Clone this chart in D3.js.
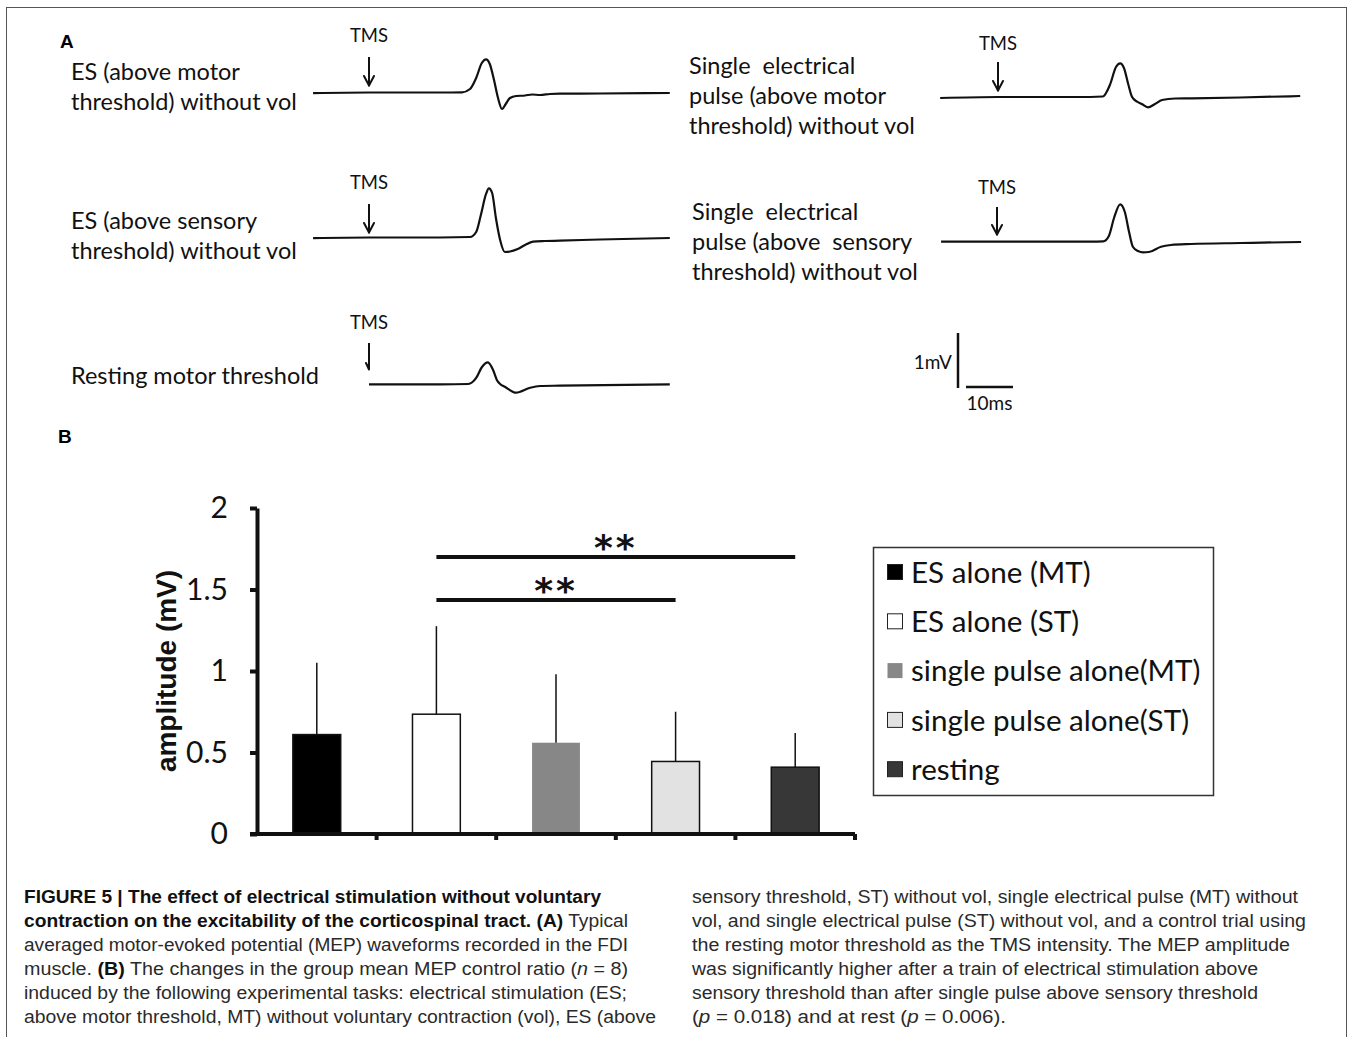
<!DOCTYPE html>
<html><head><meta charset="utf-8">
<script src="https://cdn.jsdelivr.net/npm/d3@7"></script>
<style>body{margin:0;background:#fff}svg{display:block}</style>
</head><body>
<svg id="c" width="1350" height="1037"></svg>
<script>
// ---------- DATA ----------
// MEP waveforms: [time after TMS (ms), amplitude (mV)]
const traceEsMT = [[-11.9,-0.01],[0,0],[15.1,0],[19.8,0.004],[21.5,0.064],[22.8,0.264],[24.0,0.536],[24.9,0.604],[25.7,0.518],[26.6,0.227],[27.4,-0.082],[28.3,-0.3],[29.1,-0.209],[30.0,-0.1],[31.3,-0.064],[33.2,-0.055],[34.7,-0.036],[36.4,-0.045],[38.5,-0.027],[40.6,-0.02],[49.1,-0.018],[64.0,-0.009]];
const traceEsST = [[-11.9,-0.01],[0,0],[15.1,0],[21.5,0.009],[22.8,0.1],[23.8,0.409],[24.9,0.791],[25.5,0.895],[26.2,0.809],[27.0,0.355],[27.9,-0.045],[28.9,-0.264],[30.0,-0.255],[31.5,-0.215],[33.2,-0.136],[34.9,-0.076],[37.4,-0.064],[40.6,-0.058],[49.1,-0.036],[64.0,-0.009]];
const traceRest = [[0,0],[15.1,0],[21.1,0.005],[22.8,0.115],[24.0,0.31],[25.3,0.4],[26.4,0.26],[27.2,0.08],[27.9,0.005],[28.9,-0.044],[31.3,-0.153],[34.3,-0.062],[36.4,-0.031],[40.6,-0.025],[64.0,0]];
const traceSpMT = [[-12.3,-0.018],[0,0],[19.6,0],[22.3,0.009],[23.8,0.218],[25.1,0.545],[26.0,0.613],[26.8,0.527],[27.7,0.236],[28.5,0.005],[29.6,-0.085],[30.6,-0.127],[31.9,-0.187],[33.4,-0.127],[34.9,-0.055],[37.7,-0.027],[40.9,-0.024],[51.5,-0.009],[64.3,0.018]];
const traceSpST = [[-11.9,0],[0,0],[20.0,0],[22.6,0.005],[23.8,0.104],[24.9,0.431],[26.2,0.68],[27.2,0.54],[28.1,0.176],[28.9,-0.091],[30.0,-0.169],[31.1,-0.193],[32.3,-0.187],[34.9,-0.091],[37.0,-0.06],[41.3,-0.042],[51.9,-0.024],[64.7,-0.005]];
const scaleBarMv = 1, scaleBarMs = 10;

// Panel B: group mean MEP amplitude
const categories = ["ES alone (MT)", "ES alone (ST)", "single pulse alone(MT)", "single pulse alone(ST)", "resting"];
const meanAmp = [0.61, 0.735, 0.56, 0.445, 0.41];
const sdAmp = [0.44, 0.54, 0.42, 0.305, 0.21];
const barColors = ["#000000", "#ffffff", "#878787", "#e2e2e2", "#373737"];
const yTickValues = [0, 0.5, 1, 1.5, 2];
const sigFrom = [1, 1], sigTo = [4, 3], sigLevel = [1.70, 1.435], sigMark = ["**", "**"];

// ---------- DRAW ----------
const svg = d3.select("#c");
const labelFont = "Lato, 'Open Sans', sans-serif";
const pxPerMs = 4.7, pxPerMv = 55;

// frame
svg.append("rect").attr("x", 6.5).attr("y", 7.5).attr("width", 1340).attr("height", 1100)
  .attr("fill", "none").attr("stroke", "#555").attr("stroke-width", 1);

svg.append("text").attr("x", 60).attr("y", 48).text("A")
  .attr("font-family", "'Liberation Sans', Arial, sans-serif").attr("font-weight", "bold").attr("font-size", 19);
svg.append("text").attr("x", 58).attr("y", 443).text("B")
  .attr("font-family", "'Liberation Sans', Arial, sans-serif").attr("font-weight", "bold").attr("font-size", 19);

const traces = [
  {data: traceEsMT, x0: 369, base: 92.5, lx: 71, ly: 72, labels: ["ES (above motor", "threshold) without vol"], tmsY: 35, a1: 57, a2: 85},
  {data: traceEsST, x0: 369, base: 237.5, lx: 71, ly: 221, labels: ["ES (above sensory", "threshold) without vol"], tmsY: 182, a1: 204, a2: 232},
  {data: traceRest, x0: 369, base: 384.3, lx: 71, ly: 376, labels: ["Resting motor threshold"], tmsY: 322, a1: 343, a2: 369, half: true},
  {data: traceSpMT, x0: 998, base: 97, lx: 689, ly: 66, labels: ["Single  electrical", "pulse (above motor", "threshold) without vol"], tmsY: 43, a1: 62, a2: 90},
  {data: traceSpST, x0: 997, base: 241.7, lx: 692, ly: 212, labels: ["Single  electrical", "pulse (above  sensory", "threshold) without vol"], tmsY: 187, a1: 207, a2: 234}
];

traces.forEach(t => {
  const xs = d3.scaleLinear().domain([0, 1]).range([t.x0, t.x0 + pxPerMs]);
  const ys = d3.scaleLinear().domain([0, 1]).range([t.base, t.base - pxPerMv]);
  const line = d3.line().x(d => xs(d[0])).y(d => ys(d[1])).curve(d3.curveMonotoneX);
  svg.append("path").attr("d", line(t.data)).attr("fill", "none").attr("stroke", "#111")
    .attr("stroke-width", 2.2).attr("stroke-linejoin", "round");
  t.labels.forEach((s, i) => {
    svg.append("text").attr("x", t.lx).attr("y", t.ly + i * 30).attr("dy", "0.36em")
      .style("white-space", "pre").attr("font-family", labelFont).attr("font-size", 23.5)
      .attr("fill", "#111").text(s);
  });
  svg.append("text").attr("x", xs(0)).attr("y", t.tmsY).attr("dy", "0.36em").attr("text-anchor", "middle")
    .attr("font-family", labelFont).attr("font-size", 18.5).attr("fill", "#111").text("TMS");
  const ax = xs(0);
  svg.append("line").attr("x1", ax).attr("x2", ax).attr("y1", t.a1).attr("y2", t.a2)
    .attr("stroke", "#111").attr("stroke-width", 2);
  const barb = t.half ? [[ax - 3, t.a2 - 6]] : [[ax - 5, t.a2 - 9], [ax + 5, t.a2 - 9]];
  barb.forEach(b => svg.append("line").attr("x1", b[0]).attr("y1", b[1]).attr("x2", ax).attr("y2", t.a2 + 0.5)
    .attr("stroke", "#111").attr("stroke-width", 2).attr("stroke-linecap", "round"));
});

// scale bars
{
  const sbx = d3.scaleLinear().domain([0, 1]).range([966, 966 + pxPerMs]);
  const sby = d3.scaleLinear().domain([0, 1]).range([388, 388 - pxPerMv]);
  svg.append("line").attr("x1", 958).attr("x2", 958).attr("y1", sby(0)).attr("y2", sby(scaleBarMv))
    .attr("stroke", "#111").attr("stroke-width", 2.5);
  svg.append("line").attr("x1", sbx(0)).attr("x2", sbx(scaleBarMs)).attr("y1", 387).attr("y2", 387)
    .attr("stroke", "#111").attr("stroke-width", 2.5);
  svg.append("text").attr("x", 952).attr("y", 362).attr("dy", "0.36em").attr("text-anchor", "end")
    .attr("font-family", labelFont).attr("font-size", 19).attr("fill", "#111").text(scaleBarMv + "mV");
  svg.append("text").attr("x", (sbx(0) + sbx(scaleBarMs)) / 2).attr("y", 403).attr("dy", "0.36em").attr("text-anchor", "middle")
    .attr("font-family", labelFont).attr("font-size", 19).attr("fill", "#111").text(scaleBarMs + "ms");
}

// ---------- Panel B bar chart ----------
const x = d3.scaleBand().domain(categories).range([257, 855]).paddingInner(0).paddingOuter(0);
const y = d3.scaleLinear().domain([0, 2]).range([834, 508]);
const barW = x.bandwidth() * 0.4;

// bars
svg.append("g").selectAll("rect").data(categories).join("rect")
  .attr("x", d => x(d) + (x.bandwidth() - barW) / 2)
  .attr("y", (d, i) => y(meanAmp[i]))
  .attr("width", barW)
  .attr("height", (d, i) => y(0) - y(meanAmp[i]))
  .attr("fill", (d, i) => barColors[i])
  .attr("stroke", (d, i) => i === 2 ? "none" : "#111")
  .attr("stroke-width", 1.5);

// error bars (upper only)
svg.append("g").selectAll("line").data(categories).join("line")
  .attr("x1", d => x(d) + x.bandwidth() / 2).attr("x2", d => x(d) + x.bandwidth() / 2)
  .attr("y1", (d, i) => y(meanAmp[i])).attr("y2", (d, i) => y(meanAmp[i] + sdAmp[i]))
  .attr("stroke", "#111").attr("stroke-width", 1.5);

// y axis
const yAxis = svg.append("g").attr("transform", "translate(257,0)")
  .call(d3.axisLeft(y).tickValues(yTickValues).tickFormat(d3.format("~g")).tickSize(7).tickSizeOuter(0).tickPadding(22));
yAxis.select(".domain").attr("stroke", "#111").attr("stroke-width", 4);
yAxis.selectAll(".tick line").attr("stroke", "#111").attr("stroke-width", 4);
yAxis.selectAll(".tick text").attr("font-family", labelFont).attr("font-size", 30).attr("fill", "#111");

// x axis line with category boundary ticks
svg.append("line").attr("x1", x.range()[0] - 7).attr("x2", x.range()[1]).attr("y1", y(0)).attr("y2", y(0))
  .attr("stroke", "#111").attr("stroke-width", 4);
svg.append("g").selectAll("line").data(categories).join("line")
  .attr("x1", d => x(d) + x.step()).attr("x2", d => x(d) + x.step())
  .attr("y1", y(0)).attr("y2", y(0) + 6)
  .attr("stroke", "#111").attr("stroke-width", 4);

// y label
svg.append("text").attr("transform", "translate(176,671) rotate(-90)").attr("text-anchor", "middle")
  .attr("font-family", "'Liberation Sans', Arial, sans-serif").attr("font-weight", "bold").attr("font-size", 28)
  .attr("fill", "#111").text("amplitude (mV)");

// significance brackets
sigFrom.forEach((f, i) => {
  const xa = x(categories[f]) + x.bandwidth() / 2, xb = x(categories[sigTo[i]]) + x.bandwidth() / 2;
  const ly = y(sigLevel[i]);
  svg.append("line").attr("x1", xa).attr("x2", xb).attr("y1", ly).attr("y2", ly)
    .attr("stroke", "#111").attr("stroke-width", 4);
  svg.append("text").attr("x", (xa + xb) / 2).attr("y", ly + 3).attr("text-anchor", "middle")
    .attr("font-family", "'DejaVu Sans', sans-serif").attr("font-weight", "bold").attr("font-size", 36)
    .attr("fill", "#111").attr("letter-spacing", 3).text(sigMark[i]);
});

// legend
{
  const lg = svg.append("g");
  lg.append("rect").attr("x", 873.5).attr("y", 547.5).attr("width", 340).attr("height", 248)
    .attr("fill", "#fff").attr("stroke", "#333").attr("stroke-width", 1.5);
  const rows = lg.selectAll("g.row").data(categories).join("g").attr("class", "row")
    .attr("transform", (d, i) => `translate(887,${572 + i * 49.3})`);
  rows.append("rect").attr("x", 0.5).attr("y", -7.5).attr("width", 15).attr("height", 15)
    .attr("fill", (d, i) => barColors[i]).attr("stroke", (d, i) => i === 2 ? "none" : "#222").attr("stroke-width", 1);
  rows.append("text").attr("x", 24).attr("y", 0).attr("dy", "0.36em")
    .attr("font-family", labelFont).attr("font-size", 29.6).attr("fill", "#111").text(d => d);
}

// ---------- caption ----------
const capFont = "'Liberation Sans', Arial, sans-serif";
const capLeft = [
  [["FIGURE 5 | The effect of electrical stimulation without voluntary", "b"]],
  [["contraction on the excitability of the corticospinal tract. (A)", "b"], [" Typical", ""]],
  [["averaged motor-evoked potential (MEP) waveforms recorded in the FDI", ""]],
  [["muscle. ", ""], ["(B)", "b"], [" The changes in the group mean MEP control ratio (", ""], ["n", "i"], [" = 8)", ""]],
  [["induced by the following experimental tasks: electrical stimulation (ES;", ""]],
  [["above motor threshold, MT) without voluntary contraction (vol), ES (above", ""]]
];
const capRight = [
  [["sensory threshold, ST) without vol, single electrical pulse (MT) without", ""]],
  [["vol, and single electrical pulse (ST) without vol, and a control trial using", ""]],
  [["the resting motor threshold as the TMS intensity. The MEP amplitude", ""]],
  [["was significantly higher after a train of electrical stimulation above", ""]],
  [["sensory threshold than after single pulse above sensory threshold", ""]],
  [["(", ""], ["p", "i"], [" = 0.018) and at rest (", ""], ["p", "i"], [" = 0.006).", ""]]
];
const leftW = [577, 604, 604, 604, 603, 632];
const rightW = [606, 614, 598, 566, 566, 314];
function caption(lines, x0, widths) {
  lines.forEach((parts, i) => {
    const t = svg.append("text").attr("x", x0).attr("y", 903 + i * 24)
      .attr("font-family", capFont).attr("font-size", 17.5).attr("fill", "#2a2a2a")
      .style("white-space", "pre")
      .attr("textLength", widths[i]).attr("lengthAdjust", "spacingAndGlyphs");
    parts.forEach(p => {
      const ts = t.append("tspan").text(p[0]);
      if (p[1] === "b") ts.attr("font-weight", "bold").attr("fill", "#111");
      if (p[1] === "i") ts.attr("font-style", "italic");
    });
  });
}
caption(capLeft, 24, leftW);
caption(capRight, 692, rightW);
</script>
</body></html>
